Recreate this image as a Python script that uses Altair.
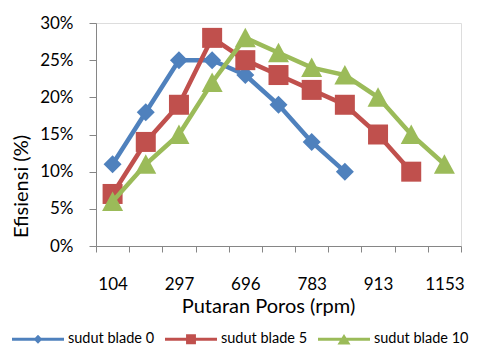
import json
import altair as alt
import pandas as pd

# ---- data ----
x_labels = ["104", "297", "696", "783", "913", "1153"]   # shown on every other category
series_names = ["sudut blade 0", "sudut blade 5", "sudut blade 10"]
blade0 = [11, 18, 25, 25, 23, 19, 14, 10]
blade5 = [7, 14, 19, 28, 25, 23, 21, 19, 15, 10]
blade10 = [6, 11, 15, 22, 28, 26, 24, 23, 20, 15, 11]
colors = ["#4F81BD", "#C0504D", "#9BBB59"]

FONT = "Lato"
TITLE_SIZE = 20

rows = []
for name, vals in zip(series_names, [blade0, blade5, blade10]):
    for i, v in enumerate(vals):
        rows.append({"idx": i, "eff": v / 100.0, "series": name})
df = pd.DataFrame(rows)

n_cat = max(len(blade0), len(blade5), len(blade10))

# marker shapes (plot) as unit paths
plot_shapes = [
    "M-0.9,0L0,-0.9L0.9,0L0,0.9Z",
    "M-1,-1L1,-1L1,1L-1,1Z",
    "M0,-1L1.05,0.95L-1.05,0.95Z",
]
# legend symbols: line + small marker (unit = 26px)
line_part = "M-1,-0.055L1,-0.055L1,0.055L-1,0.055Z"
legend_shapes = [
    line_part + "M-0.17,0L0,-0.17L0.17,0L0,0.17Z",
    line_part + "M-0.19,-0.19L0.19,-0.19L0.19,0.19L-0.19,0.19Z",
    line_part + "M0,-0.2L0.25,0.2L-0.25,0.2Z",
]
sym_expr = (
    f"datum.value === {json.dumps(series_names[0])} ? {json.dumps(legend_shapes[0])} : "
    f"datum.value === {json.dumps(series_names[1])} ? {json.dumps(legend_shapes[1])} : "
    f"{json.dumps(legend_shapes[2])}"
)

tick_vals = [i - 0.5 for i in range(n_cat + 1)]
label_vals = [2 * k for k in range(len(x_labels))]
label_expr = f"datum.value % 2 == 0 ? {json.dumps(x_labels)}[datum.value / 2] : ''"

x_enc = alt.X(
    "idx:Q",
    scale=alt.Scale(domain=[-0.5, n_cat - 0.5], nice=False, zero=False),
    axis=alt.Axis(
        values=tick_vals + label_vals,
        labelExpr=label_expr,
        tickOpacity={"condition": {"test": "datum.value % 1 == 0", "value": 0}, "value": 1},
        tickSize=6,
        tickColor="#868686",
        domainColor="#868686",
        labelPadding=24,
        labelFontSize=17,
        labelColor="#000000",
        labelOverlap=False,
        labelFlush=False,
        labelFont=FONT,
        grid=False,
        titleFontSize=TITLE_SIZE,
        titleFontWeight="normal",
        titleFont=FONT,
        titleColor="#000000",
        titlePadding=4,
        titleX=172,
        titleAlign="center",
    ),
    title="Putaran Poros (rpm)",
)
y_enc = alt.Y(
    "eff:Q",
    scale=alt.Scale(domain=[0, 0.3], nice=False),
    axis=alt.Axis(
        values=[0, 0.05, 0.1, 0.15, 0.2, 0.25, 0.3],
        format=".0%",
        tickSize=7,
        tickColor="#868686",
        domainColor="#868686",
        labelPadding=16,
        labelFontSize=17,
        labelColor="#000000",
        labelFont=FONT,
        grid=False,
        titleFontSize=TITLE_SIZE,
        titleFontWeight="normal",
        titleFont=FONT,
        titleColor="#000000",
        titleX=-69,
        titleY=163,
        titleBaseline="alphabetic",
    ),
    title="Efisiensi (%)",
)

color_scale = alt.Scale(domain=series_names, range=colors)

legend = alt.Legend(
    title=None,
    orient="none",
    direction="horizontal",
    legendX=-84,
    legendY=290,
    symbolType={"expr": sym_expr},
    symbolSize=2704,
    symbolStrokeWidth=0,
    labelFontSize=14.5,
    labelFont=FONT,
    labelColor="#000000",
    labelOffset=4,
    columnPadding=10,
)

# legend-owning layer: draws no marks itself, only carries the shared colour legend
legend_layer = alt.Chart(df).transform_filter("false").mark_point(
    filled=True, opacity=1
).encode(
    x=x_enc, y=y_enc,
    color=alt.Color("series:N", scale=color_scale, legend=legend),
)

layers = [legend_layer]
for k, name in enumerate(series_names):
    base = alt.Chart(df).transform_filter(alt.datum.series == name)
    line = base.mark_line(strokeWidth=4.5).encode(
        x=x_enc, y=y_enc,
        color=alt.Color("series:N", scale=color_scale, legend=None),
    )
    pts = base.mark_point(
        filled=True, opacity=1, size=400, strokeWidth=0, shape=plot_shapes[k]
    ).encode(
        x=x_enc, y=y_enc,
        color=alt.Color("series:N", scale=color_scale, legend=None),
    )
    layers += [line, pts]

chart = alt.layer(*layers).properties(
    width=365,
    height=223,
    autosize="none",
    padding={"left": 96, "top": 23, "right": 19, "bottom": 101},
).configure_view(stroke=None).configure(font=FONT)

chart.save("out.html", embed_options={"renderer": "svg", "actions": False})
